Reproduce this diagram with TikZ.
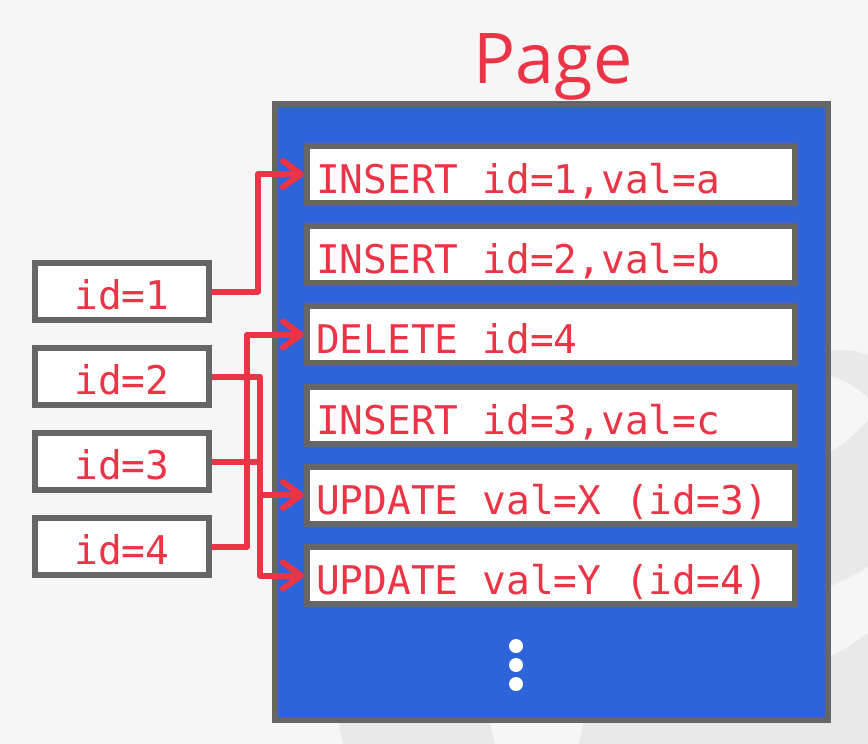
\documentclass[tikz,border=0pt]{standalone}
\usepackage{fontspec}
\newfontfamily\codefont{DejaVu Sans Mono}
\newfontfamily\titlefont{Open Sans}
\usetikzlibrary{arrows.meta}

% monospaced record text; \recgap is one full character cell
\newcommand\recordfont{\codefont\fontsize{39.5}{40}\selectfont}
\newcommand\recgap{\hspace*{0.602em}}

\definecolor{pagebg}{HTML}{F6F6F6}
\definecolor{wmark}{HTML}{E9E9E9}
\definecolor{pageblue}{HTML}{2D64D9}
\definecolor{frame}{HTML}{666666}
\definecolor{ink}{HTML}{EB3446}

\tikzset{
  codetext/.style={font=\recordfont, text=ink},
  slot/.style={codetext, rectangle, draw=frame, line width=6pt, fill=white,
    minimum width=488pt, minimum height=57pt, text width=470pt,
    inner xsep=9pt, inner ysep=0pt, align=left,
    text height=38pt, text depth=0pt},
  keybox/.style={codetext, rectangle, draw=frame, line width=6pt, fill=white,
    minimum width=174pt, minimum height=57pt, inner sep=0pt,
    text height=36pt, text depth=0pt},
  link/.style={draw=ink, line width=6pt, line join=round, line cap=butt},
  linkarrow/.style={link, -{Straight Barb[length=18pt,width=26pt,round]}},
  dot/.style={circle, fill=white, inner sep=0pt, minimum size=14pt},
  heading/.style={text=ink, font=\titlefont\fontsize{70}{70}\selectfont}
}

\begin{document}
\begin{tikzpicture}[x=1pt, y=-1pt]
  % canvas
  \fill[pagebg] (0,0) rectangle (868,744);
  \useasboundingbox (0,0) rectangle (868,744);

  % faint background watermark bands
  \fill[wmark] (831,350) .. controls (845,349) and (858,351) .. (868,355)
     -- (868,398) .. controls (858,388) and (845,380) .. (831,376) -- cycle;
  \fill[wmark] (831,452) .. controls (845,443) and (858,432) .. (868,420)
     -- (868,567) .. controls (856,574) and (844,580) .. (831,586) -- cycle;
  \fill[wmark] (831,656) .. controls (844,650) and (856,642) .. (868,633)
     -- (868,744) -- (579,744) -- (583,723) -- (831,723) -- cycle;
  \fill[wmark] (343,744) -- (339,723) -- (490,723) -- (495,744) -- cycle;

  % the page
  \node[rectangle, draw=frame, fill=pageblue, line width=6pt, inner sep=0pt,
        minimum width=553pt, minimum height=616pt] (page) at (551.5,412) {};
  \node[heading, anchor=base] (title) at (553,83) {Page};

  % log records stored in the page
  \node[slot] (e1) at (551,174)   {INSERT\recgap id=1,val=a};
  \node[slot] (e2) at (551,254.5) {INSERT\recgap id=2,val=b};
  \node[slot] (e3) at (551,334.5) {DELETE\recgap id=4};
  \node[slot] (e4) at (551,415)   {INSERT\recgap id=3,val=c};
  \node[slot] (e5) at (551,495)   {UPDATE\recgap val=X\recgap (id=3)};
  \node[slot] (e6) at (551,575.5) {UPDATE\recgap val=Y\recgap (id=4)};

  % more records follow
  \node[dot] (d1) at (516,646) {};
  \node[dot] (d2) at (516,665) {};
  \node[dot] (d3) at (516,684) {};

  % record keys
  \node[keybox] (k1) at (122,291.5) {id=1};
  \node[keybox] (k2) at (122,376.5) {id=2};
  \node[keybox] (k3) at (122,461.5) {id=3};
  \node[keybox] (k4) at (122,546.5) {id=4};

  % key -> record links
  \coordinate (j1) at (258,291.5);
  \coordinate (j4) at (247,546.5);
  \coordinate (j3) at (260,461.5);
  \coordinate (j2) at (260,376.5);
  \draw[linkarrow] (k4.east) -- (j4) |- (e3.west);
  \draw[linkarrow] (k1.east) -- (j1) |- (e1.west);
  \draw[linkarrow] (k3.east) -- (j3) |- (e5.west);
  \draw[linkarrow] (k2.east) -- (j2) |- (e6.west);
\end{tikzpicture}
\end{document}
